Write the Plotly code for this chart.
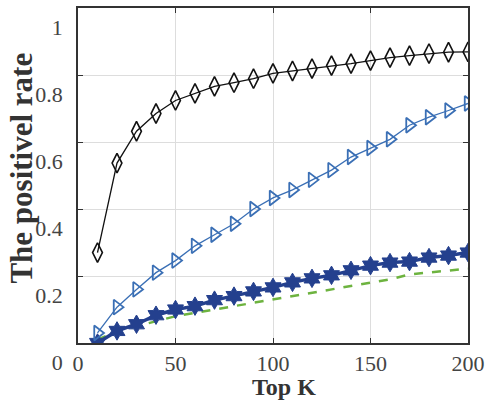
import plotly.graph_objects as go

top_k = [10, 20, 30, 40, 50, 60, 70, 80, 90, 100, 110, 120, 130, 140, 150, 160, 170, 180, 190, 200]

diamond_rate = [0.27, 0.537, 0.632, 0.685, 0.724, 0.745, 0.766, 0.777, 0.789, 0.805,
                 0.812, 0.819, 0.828, 0.834, 0.843, 0.852, 0.858, 0.864, 0.868, 0.869]
triangle_rate = [0.03, 0.107, 0.16, 0.21, 0.246, 0.29, 0.323, 0.356, 0.40, 0.433,
                 0.457, 0.487, 0.516, 0.555, 0.582, 0.608, 0.65, 0.674, 0.694, 0.715]
star_rate = [0.0, 0.036, 0.056, 0.083, 0.10, 0.11, 0.128, 0.14, 0.154, 0.166,
             0.181, 0.193, 0.202, 0.217, 0.231, 0.24, 0.243, 0.255, 0.261, 0.27]
green_rate = [0.01, 0.035, 0.05, 0.065, 0.08, 0.09, 0.10, 0.11, 0.12, 0.13,
              0.14, 0.15, 0.16, 0.17, 0.18, 0.19, 0.205, 0.21, 0.215, 0.222]

x_ticks = [0, 50, 100, 150, 200]
y_ticks = [0, 0.2, 0.4, 0.6, 0.8, 1]
y_tick_text = ["0", "0.2", "0.4", "0.6", "0.8", "1"]

fig = go.Figure()
fig.add_trace(go.Scatter(x=top_k, y=green_rate, mode="lines",
                         line=dict(color="#6DB33F", width=2.5, dash="dash"), showlegend=False))
fig.add_trace(go.Scatter(x=top_k, y=star_rate, mode="lines+markers",
                         line=dict(color="#24408E", width=3.5),
                         marker=dict(symbol="hexagram", size=14, color="#24408E",
                                     line=dict(color="#24408E", width=1)), showlegend=False))
fig.add_trace(go.Scatter(x=top_k, y=triangle_rate, mode="lines+markers",
                         line=dict(color="#3A6FB5", width=1.3),
                         marker=dict(symbol="triangle-right-open", size=13, color="#3A6FB5",
                                     line=dict(width=1.8)), showlegend=False))
fig.add_trace(go.Scatter(x=top_k, y=diamond_rate, mode="lines+markers",
                         line=dict(color="#111111", width=1.3),
                         marker=dict(symbol="diamond-tall-open", size=14, color="#111111",
                                     line=dict(width=1.6)), showlegend=False))

serif = "Liberation Serif, Times New Roman, serif"
tick_font = dict(family=serif, size=22, color="#444444")
fig.update_layout(
    width=491, height=402,
    margin=dict(l=78, r=19, t=6, b=59),
    paper_bgcolor="white", plot_bgcolor="white",
    font=dict(family=serif),
    xaxis=dict(range=[0, 200], tickvals=x_ticks, ticks="inside", ticklen=5,
               tickcolor="#333333", showline=True, linecolor="#333333", linewidth=1.5,
               mirror="ticks", showgrid=True, gridcolor="#DDDDDD", gridwidth=1,
               zeroline=False, tickfont=tick_font, ticklabelstandoff=0),
    yaxis=dict(range=[0, 1], tickvals=y_ticks, ticktext=y_tick_text, ticks="inside", ticklen=5,
               tickcolor="#333333", showline=True, linecolor="#333333", linewidth=1.5,
               mirror="ticks", showgrid=True, gridcolor="#DDDDDD", gridwidth=1,
               zeroline=False, tickfont=tick_font, ticklabelshift=19, ticklabelstandoff=9),
    annotations=[
        dict(text="<b>Top K</b>", xref="paper", yref="paper", x=0.528, y=-0.176,
             xanchor="center", yanchor="bottom", showarrow=False,
             font=dict(family=serif, size=24, color="#333333")),
        dict(text="<b>The positivel rate</b>", xref="paper", yref="paper", x=-0.145, y=0.522,
             xanchor="center", yanchor="middle", textangle=-90, showarrow=False,
             font=dict(family=serif, size=31, color="#333333")),
    ],
)
fig.write_html("out.html")
